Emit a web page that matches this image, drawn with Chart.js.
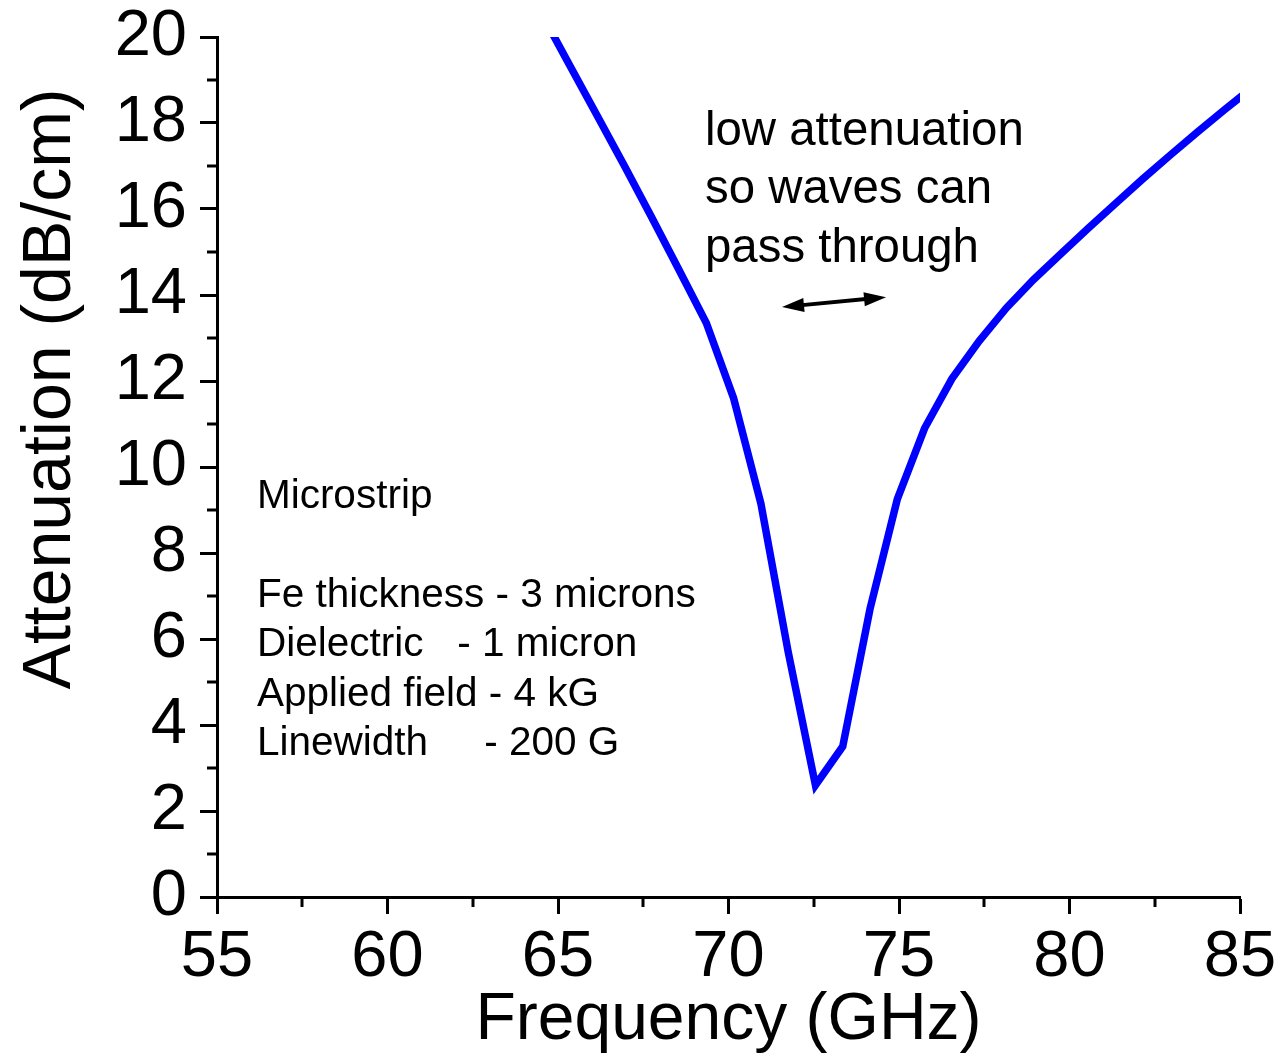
<!DOCTYPE html>
<html>
<head>
<meta charset="utf-8">
<script src="https://cdn.jsdelivr.net/npm/chart.js@4.4.1/dist/chart.umd.min.js"></script>
<style>
  html, body { margin: 0; padding: 0; background: #fff; }
  canvas { display: block; }
</style>
</head>
<body>
<canvas id="attenuation-chart" width="1282" height="1060"></canvas>
<script>
// values: frequency (GHz) / attenuation (dB/cm)
var freq = [64.55, 65.35, 66.15, 66.95, 67.75, 68.55, 69.35, 70.15, 70.95, 71.75,
            72.55, 73.35, 74.15, 74.95, 75.75, 76.55, 77.35, 78.15, 78.95, 79.75,
            80.55, 81.35, 82.15, 82.95, 83.75, 84.55, 85.35];
var atten = [20.5, 19.33, 18.17, 17.0, 15.8, 14.58, 13.35, 11.6, 9.15, 5.7,
             2.6, 3.5, 6.7, 9.25, 10.9, 12.05, 12.93, 13.7, 14.36, 14.96,
             15.55, 16.13, 16.7, 17.25, 17.79, 18.31, 18.82];

var yMinorTicks = [1, 3, 5, 7, 9, 11, 13, 15, 17, 19];
var xMinorTicks = [57.5, 62.5, 67.5, 72.5, 77.5, 82.5];

var yTitle = "Attenuation (dB/cm)";
var noteLines = ["low attenuation", "so waves can", "pass through"];
var infoLines = ["Microstrip", "", "Fe thickness - 3 microns", "Dielectric   - 1 micron",
                 "Applied field - 4 kG", "Linewidth     - 200 G"];

var FONT = '"Liberation Sans", Arial, sans-serif';

var points = [];
for (var i = 0; i < freq.length; i++) {
  points.push({x: freq[i], y: atten[i]});
}

// minor ticks, y title, text notes and the arrow
var extras = {
  id: "extras",
  afterDraw: function (chart) {
    var ctx = chart.ctx;
    var xs = chart.scales.x, ys = chart.scales.y;
    var area = chart.chartArea;

    ctx.save();
    ctx.strokeStyle = "#000";
    ctx.lineWidth = 3;
    ctx.beginPath();
    yMinorTicks.forEach(function (v) {
      var py = Math.round(ys.getPixelForValue(v));
      ctx.moveTo(area.left - 10, py);
      ctx.lineTo(area.left, py);
    });
    xMinorTicks.forEach(function (v) {
      var px = Math.round(xs.getPixelForValue(v));
      ctx.moveTo(px, area.bottom);
      ctx.lineTo(px, area.bottom + 10);
    });
    ctx.stroke();

    ctx.fillStyle = "#000";

    // y title sits above the axis centre in the original
    ctx.save();
    ctx.translate(70, 389);
    ctx.rotate(-Math.PI / 2);
    ctx.font = "68px " + FONT;
    ctx.textAlign = "center";
    ctx.textBaseline = "alphabetic";
    ctx.fillText(yTitle, 0, 0);
    ctx.restore();

    ctx.textAlign = "left";
    ctx.textBaseline = "alphabetic";

    ctx.font = "47.4px " + FONT;
    var nx = xs.getPixelForValue(69.31), ny = ys.getPixelForValue(17.49);
    noteLines.forEach(function (t, k) {
      ctx.fillText(t, nx, ny + k * 58.5);
    });

    ctx.font = "40.5px " + FONT;
    var ix = xs.getPixelForValue(56.17), iy = ys.getPixelForValue(9.05);
    infoLines.forEach(function (t, k) {
      if (t) ctx.fillText(t, ix, iy + k * 49.5);
    });

    // double headed arrow
    var x1 = xs.getPixelForValue(71.57), y1 = ys.getPixelForValue(13.72);
    var x2 = xs.getPixelForValue(74.62), y2 = ys.getPixelForValue(13.95);
    var ang = Math.atan2(y2 - y1, x2 - x1);
    var head = 22, half = 7;
    ctx.lineWidth = 4;
    ctx.beginPath();
    ctx.moveTo(x1 + head * 0.8 * Math.cos(ang), y1 + head * 0.8 * Math.sin(ang));
    ctx.lineTo(x2 - head * 0.8 * Math.cos(ang), y2 - head * 0.8 * Math.sin(ang));
    ctx.stroke();
    function arrowHead(tx, ty, a) {
      var bx = tx - head * Math.cos(a), by = ty - head * Math.sin(a);
      ctx.beginPath();
      ctx.moveTo(tx, ty);
      ctx.lineTo(bx + half * Math.sin(a), by - half * Math.cos(a));
      ctx.lineTo(bx - half * Math.sin(a), by + half * Math.cos(a));
      ctx.closePath();
      ctx.fill();
    }
    arrowHead(x2, y2, ang);
    arrowHead(x1, y1, ang + Math.PI);
    ctx.restore();
  }
};

var ctx = document.getElementById("attenuation-chart").getContext("2d");
new Chart(ctx, {
  type: "line",
  data: {
    datasets: [{
      data: points,
      borderColor: "#0000ff",
      borderWidth: 7.5,
      pointRadius: 0,
      tension: 0,
      fill: false,
      clip: 0
    }]
  },
  options: {
    responsive: false,
    animation: false,
    devicePixelRatio: 1,
    layout: {padding: {left: 0, right: 42, top: 37, bottom: 0}},
    plugins: {legend: {display: false}, tooltip: {enabled: false}},
    scales: {
      x: {
        type: "linear",
        min: 55,
        max: 85,
        ticks: {stepSize: 5, color: "#000", padding: 5, font: {family: FONT, size: 65}, maxRotation: 0},
        grid: {drawOnChartArea: false, tickLength: 17, tickWidth: 3, tickColor: "#000"},
        border: {color: "#000", width: 3},
        title: {display: true, text: "Frequency (GHz)", color: "#000", font: {family: FONT, size: 66}, padding: 0},
        afterFit: function (s) { s.height = 163; s.paddingLeft = 0; s.paddingRight = 0; }
      },
      y: {
        min: 0,
        max: 20,
        ticks: {stepSize: 2, color: "#000", padding: 13, font: {family: FONT, size: 65}},
        grid: {drawOnChartArea: false, tickLength: 17, tickWidth: 3, tickColor: "#000"},
        border: {color: "#000", width: 3},
        title: {display: false},
        afterFit: function (s) { s.width = 217; s.paddingTop = 0; s.paddingBottom = 0; }
      }
    }
  },
  plugins: [extras]
});
</script>
</body>
</html>
